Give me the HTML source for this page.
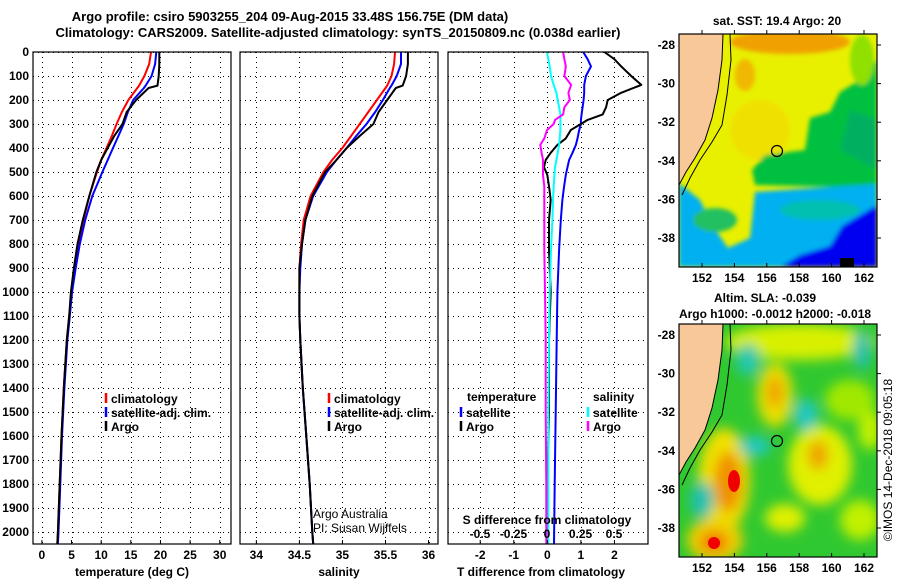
<!DOCTYPE html>
<html><head><meta charset="utf-8">
<style>
body{margin:0;background:#fff;}
svg{display:block;font-family:"Liberation Sans",Arial,sans-serif;font-weight:bold;}
</style></head><body>
<svg id="fig" width="900" height="580" viewBox="0 0 900 580" xmlns="http://www.w3.org/2000/svg">
<defs>
<filter id="bl" x="-50%" y="-50%" width="200%" height="200%"><feGaussianBlur stdDeviation="6"/></filter>
<filter id="bl2" x="-50%" y="-50%" width="200%" height="200%"><feGaussianBlur stdDeviation="2"/></filter>
<clipPath id="c1"><rect x="679" y="34" width="198" height="233"/></clipPath>
<clipPath id="c2"><rect x="679" y="324" width="198" height="233"/></clipPath>
</defs>
<text x="290" y="21" font-size="13" text-anchor="middle">Argo profile: csiro 5903255_204 09-Aug-2015 33.48S 156.75E (DM data)</text>
<text x="338" y="37" font-size="13" text-anchor="middle">Climatology: CARS2009. Satellite-adjusted climatology: synTS_20150809.nc (0.038d earlier)</text>
<g id="panels"></g>

<!-- Map 1 -->
<text x="777" y="25" font-size="12" text-anchor="middle">sat. SST: 19.4 Argo: 20</text>
<g clip-path="url(#c1)">
<rect x="679" y="34" width="198" height="233" fill="#e8f000"/>
<g filter="url(#bl2)">
<ellipse cx="790" cy="42" rx="60" ry="12" fill="#f0a000"/>
<ellipse cx="745" cy="75" rx="10" ry="16" fill="#f0b800"/>
<ellipse cx="760" cy="130" rx="30" ry="30" fill="#f0e000"/>
<polygon points="877,60 860,80 840,92 830,112 810,118 805,150 765,155 752,170 755,185 877,188" fill="#00c040"/>
<polygon points="877,120 850,110 840,150 877,170" fill="#00b060"/>
<ellipse cx="862" cy="60" rx="12" ry="25" fill="#90e000"/>
<polygon points="679,183 700,200 712,225 728,248 750,238 755,192 877,184 877,267 679,267" fill="#00b0f0"/>
<ellipse cx="715" cy="220" rx="22" ry="12" fill="#20c060"/>
<ellipse cx="820" cy="210" rx="40" ry="10" fill="#00c0b0"/>
<polygon points="780,267 800,255 830,246 842,226 877,205 877,267" fill="#0000f0"/>
</g>
<rect x="840" y="258" width="14" height="9" fill="#000"/>
<polygon points="679,34 723,34 722,60 718,90 712,118 705,140 695,158 686,172 679,185" fill="#f8c898"/>
<polyline points="723,34 722,60 718,90 712,118 705,140 695,158 686,172 679,185" fill="none" stroke="#000" stroke-width="1"/>
<polyline points="730,34 731,60 727,95 722,125 712,142 700,160 690,178 682,195" fill="none" stroke="#000" stroke-width="1"/>
<circle cx="777" cy="151" r="5.5" fill="none" stroke="#000" stroke-width="1.2"/>
</g>
<rect x="679" y="34" width="198" height="233" fill="none" stroke="#000" stroke-width="1.2"/>

<!-- Map 2 -->
<text x="765" y="302" font-size="12" text-anchor="middle">Altim. SLA: -0.039</text>
<text x="775" y="318" font-size="12" text-anchor="middle">Argo h1000: -0.0012 h2000: -0.018</text>
<g clip-path="url(#c2)">
<rect x="679" y="324" width="198" height="233" fill="#30c830"/>
<g filter="url(#bl)">
<ellipse cx="800" cy="342" rx="75" ry="18" fill="#d8f000"/>
<ellipse cx="850" cy="400" rx="25" ry="20" fill="#a0e800"/>
<ellipse cx="775" cy="395" rx="18" ry="32" fill="#e8e000"/>
<ellipse cx="775" cy="392" rx="8" ry="16" fill="#f0a000"/>
<ellipse cx="724" cy="480" rx="26" ry="52" fill="#f0e000"/>
<ellipse cx="728" cy="482" rx="14" ry="30" fill="#f09000"/>
<ellipse cx="820" cy="465" rx="32" ry="40" fill="#e0f000"/>
<ellipse cx="818" cy="455" rx="10" ry="15" fill="#f0a000"/>
<ellipse cx="715" cy="540" rx="28" ry="22" fill="#f0d000"/>
<ellipse cx="714" cy="542" rx="14" ry="10" fill="#f07000"/>
<ellipse cx="785" cy="518" rx="20" ry="14" fill="#e0f000"/>
<ellipse cx="860" cy="520" rx="20" ry="20" fill="#c0f000"/>
<ellipse cx="755" cy="446" rx="16" ry="10" fill="#20c8c0"/>
<ellipse cx="748" cy="360" rx="12" ry="16" fill="#20c8b0"/>
<ellipse cx="806" cy="415" rx="12" ry="16" fill="#20c8c0"/>
<ellipse cx="702" cy="500" rx="12" ry="18" fill="#20c0b0"/>
<ellipse cx="862" cy="350" rx="9" ry="20" fill="#20c0b0"/>
<ellipse cx="870" cy="430" rx="12" ry="20" fill="#c0f000"/>
</g>
<ellipse cx="734" cy="481" rx="6" ry="11" fill="#f00000"/>
<ellipse cx="714" cy="543" rx="6" ry="6" fill="#f00000"/>
<polygon points="679,324 723,324 722,350 718,380 712,408 705,430 695,448 686,462 679,475" fill="#f8c898"/>
<polyline points="723,324 722,350 718,380 712,408 705,430 695,448 686,462 679,475" fill="none" stroke="#000" stroke-width="1"/>
<polyline points="730,324 731,350 727,385 722,415 712,432 700,450 690,468 682,485" fill="none" stroke="#000" stroke-width="1"/>
<circle cx="777" cy="441" r="5.5" fill="none" stroke="#000" stroke-width="1.2"/>
</g>
<rect x="679" y="324" width="198" height="233" fill="none" stroke="#000" stroke-width="1.2"/>
<text x="892" y="460" font-size="12" text-anchor="middle" transform="rotate(-90 892 460)" style="font-weight:normal">©IMOS 14-Dec-2018 09:05:18</text>
<g id="mapaxes"></g>
</svg>
<script>
// ---- data ----
const depthsA = [0,50,100,140,150,200,250,300,350,400,450,500,600,700,800,900,1000,1100,1200,1400,1600,1800,2000,2050];
const tempArgo = [19.8,19.8,19.7,19.5,18.0,15.9,14.3,13.6,12.2,11.1,10.0,9.2,8.0,6.9,6.0,5.4,4.9,4.6,4.2,3.7,3.3,3.0,2.7,2.6];
const tempClim = [18.4,18.1,17.3,16.4,16.1,14.6,13.5,12.6,11.8,10.9,10.0,9.3,8.0,7.0,6.1,5.5,5.0,4.6,4.2,3.7,3.3,3.0,2.7,2.6];
const tempSat  = [19.3,19.1,18.5,17.5,17.2,15.4,14.5,13.8,12.9,12.0,11.1,10.2,8.5,7.3,6.4,5.7,5.1,4.7,4.3,3.8,3.4,3.1,2.8,2.7];
const salArgo = [35.76,35.76,35.74,35.70,35.62,35.52,35.42,35.36,35.20,35.05,34.93,34.80,34.65,34.57,34.53,34.50,34.50,34.50,34.51,34.54,34.58,34.62,34.65,34.66];
const salClim = [35.61,35.60,35.57,35.52,35.50,35.40,35.30,35.20,35.10,35.00,34.88,34.78,34.63,34.55,34.52,34.50,34.50,34.50,34.51,34.54,34.58,34.62,34.65,34.66];
const salSat  = [35.68,35.68,35.63,35.57,35.55,35.47,35.38,35.28,35.16,35.05,34.93,34.82,34.66,34.57,34.53,34.51,34.50,34.50,34.51,34.54,34.58,34.62,34.65,34.66];
const depthsD = [0,30,60,100,137,170,200,230,260,283,300,325,360,387,420,450,480,512,560,616,700,825,1000,1200,1500,1800,2050];
const dTArgo = [1.7,2.0,2.2,2.5,2.8,2.2,1.8,1.75,1.65,1.2,1.0,0.7,0.55,0.3,0.1,-0.05,-0.1,0.0,0.05,0.1,0.05,0.05,0.1,0.05,0.05,0.0,0.0];
const dTSat  = [1.07,1.2,1.3,1.15,1.1,1.1,1.08,1.05,1.02,1.0,1.0,0.95,0.9,0.85,0.75,0.65,0.6,0.55,0.5,0.45,0.4,0.35,0.3,0.28,0.25,0.22,0.2];
const dSSat  = [0.0,0.01,0.02,0.03,0.05,0.07,0.08,0.09,0.1,0.1,0.1,0.1,0.095,0.09,0.08,0.07,0.06,0.055,0.05,0.045,0.04,0.03,0.02,0.015,0.01,0.01,0.01];
const dSArgo = [0.12,0.13,0.14,0.13,0.18,0.16,0.17,0.13,0.12,0.06,0.05,0.0,-0.02,-0.05,-0.04,-0.03,-0.03,-0.03,-0.02,-0.02,-0.02,-0.02,-0.015,-0.01,-0.01,-0.005,-0.005];
const depthTicks = [0,100,200,300,400,500,600,700,800,900,1000,1100,1200,1300,1400,1500,1600,1700,1800,1900,2000];
const tTicks = [0,5,10,15,20,25,30];
const sTicks = [34,34.5,35,35.5,36];
const sTickLabels = ["34","34.5","35","35.5","36"];
const dtTicks = [-2,-1,0,1,2];
const dsTicks = [-0.5,-0.25,0,0.25,0.5];
const dsTickLabels = ["-0.5","-0.25","0","0.25","0.5"];
const lonTicks = [152,154,156,158,160,162];
const latTicks = [-28,-30,-32,-34,-36,-38];

const NS="http://www.w3.org/2000/svg";
const Y0=52, Y1=544, DMAX=2050;
const yD = d => Y0 + d/DMAX*(Y1-Y0);
const px = v => Math.round(v)+0.5;
function mk(tag, attrs, parent){const e=document.createElementNS(NS,tag);for(const k in attrs)e.setAttribute(k,attrs[k]);parent.appendChild(e);return e;}
const root=document.getElementById('panels');

function panel(name,x0,x1,vmin,vmax){
  const g=mk('g',{},root);
  
  
  return {g, x:v=>x0+(v-vmin)/(vmax-vmin)*(x1-x0), x0, x1};
}
function grid(p, ticks){
  ticks.forEach(t=>{const l=mk('line',{x1:px(p.x(t)),x2:px(p.x(t)),y1:Y0,y2:Y1,stroke:'#000','stroke-width':1,'stroke-dasharray':'1,4','shape-rendering':'crispEdges'},p.g);
    
    });
  depthTicks.forEach(d=>{const l=mk('line',{x1:p.x0,x2:p.x1,y1:px(yD(d)),y2:px(yD(d)),stroke:'#000','stroke-width':1,'stroke-dasharray':'1,4','shape-rendering':'crispEdges'},p.g);
    
    });
}
function frame(p){const r=mk('rect',{x:p.x0,y:Y0,width:p.x1-p.x0,height:Y1-Y0,fill:'none',stroke:'#000','stroke-width':1.2},p.g);
  
  }
function series(p, vals, depths, color, name){
  const pts=vals.map((v,i)=>p.x(v).toFixed(1)+','+yD(depths[i]).toFixed(1)).join(' ');
  const l=mk('polyline',{points:pts,fill:'none',stroke:color,'stroke-width':2,'stroke-linejoin':'round'},p.g);
  
  
}
function xlabels(p, ticks, labels, y){
  ticks.forEach((t,i)=>{const tx=mk('text',{x:p.x(t),y:y,'font-size':12,'text-anchor':'middle'},p.g);tx.textContent=labels?labels[i]:String(t);
    
    
    const tk=mk('line',{x1:p.x(t),x2:p.x(t),y1:Y1,y2:Y1-4,stroke:'#000'},p.g);
    
    });
}
function txt(p,x,y,s,name,size,anchor){const t=mk('text',{x:x,y:y,'font-size':size||12,'text-anchor':anchor||'start'},p.g);t.textContent=s;
  
  return t;}
function legend(p,x,y,color,label,name){
  const l=mk('line',{x1:x,x2:x,y1:y-10,y2:y,stroke:color,'stroke-width':2.5},p.g);
  
  
  txt(p,x+5,y,label,name,12);
}

// Temperature panel
const pT=panel('temperature-panel',33,231,-1.5,31.9);
grid(pT,tTicks);
series(pT,tempClim,depthsA,'#f00','temp-climatology-line');
series(pT,tempSat,depthsA,'#00f','temp-satellite-line');
series(pT,tempArgo,depthsA,'#000','temp-argo-line');
frame(pT);
xlabels(pT,tTicks,null,559);
depthTicks.forEach(d=>{txt(pT,29,yD(d)+4,String(d),'depth-tick-label',12,'end');});
txt(pT,132,576,'temperature (deg C)','x-axis-title-temperature',12,'middle');
legend(pT,106,403,'#f00','climatology','legend-climatology');
legend(pT,106,417,'#00f','satellite-adj. clim.','legend-satellite');
legend(pT,106,431,'#000','Argo','legend-argo');

// Salinity panel
const pS=panel('salinity-panel',240,438,33.81,36.11);
grid(pS,sTicks);
series(pS,salClim,depthsA,'#f00','sal-climatology-line');
series(pS,salSat,depthsA,'#00f','sal-satellite-line');
series(pS,salArgo,depthsA,'#000','sal-argo-line');
frame(pS);
xlabels(pS,sTicks,sTickLabels,559);
txt(pS,339,576,'salinity','x-axis-title-salinity',12,'middle');
legend(pS,329,403,'#f00','climatology','legend-climatology');
legend(pS,329,417,'#00f','satellite-adj. clim.','legend-satellite');
legend(pS,329,431,'#000','Argo','legend-argo');
txt(pS,313,518,'Argo Australia','credit-argo-australia',12).setAttribute('style','font-weight:normal');
txt(pS,313,532,'PI: Susan Wijffels','credit-pi',12).setAttribute('style','font-weight:normal');

// Difference panel
const pD=panel('difference-panel',448,648,-2.96,3.0);
const xS = v => 547 + v*134;
grid(pD,dtTicks);
series(pD,dTSat,depthsD,'#00f','dT-satellite-line');
series(pD,dTArgo,depthsD,'#000','dT-argo-line');
const pDS={g:pD.g,x:xS,x0:448,x1:648};
series(pDS,dSSat,depthsD,'#0ff','dS-satellite-line');
series(pDS,dSArgo,depthsD,'#f0f','dS-argo-line');
frame(pD);
xlabels(pD,dtTicks,null,559);
dsTicks.forEach((t,i)=>{txt(pD,xS(t),538,dsTickLabels[i],'s-diff-tick-label',12,'middle');});
txt(pD,547,524,'S difference from climatology','s-diff-axis-title',12,'middle');
txt(pD,541,576,'T difference from climatology','t-diff-axis-title',12,'middle');
txt(pD,467,401,'temperature','legend-temperature-header',12);
txt(pD,593,401,'salinity','legend-salinity-header',12);
legend(pD,461,417,'#00f','satellite','legend-t-satellite');
legend(pD,461,431,'#000','Argo','legend-t-argo');
legend(pD,588,417,'#0ff','satellite','legend-s-satellite');
legend(pD,588,431,'#f0f','Argo','legend-s-argo');

// Map axes
const ma=document.getElementById('mapaxes');
const lonX = l => 702 + (l-152)*16.2;
[[34,267,45],[324,557,335]].forEach((m,mi)=>{
  const top=m[0],bot=m[1],lat0=m[2];
  const latY = la => lat0 + (-28-la)*19.3;
  lonTicks.forEach(l=>{
    const t=mk('text',{x:lonX(l),y:bot+15,'font-size':12,'text-anchor':'middle'},ma);t.textContent=String(l);
    
    
    mk('line',{x1:lonX(l),x2:lonX(l),y1:bot,y2:bot-4,stroke:'#000'},ma);
    mk('line',{x1:lonX(l),x2:lonX(l),y1:top,y2:top-4,stroke:'#000'},ma);
  });
  latTicks.forEach(la=>{
    const t=mk('text',{x:675,y:latY(la)+4,'font-size':12,'text-anchor':'end'},ma);t.textContent=String(la);
    
    
    mk('line',{x1:877,x2:881,y1:latY(la),y2:latY(la),stroke:'#000'},ma);
  });
});
</script>
</body></html>
